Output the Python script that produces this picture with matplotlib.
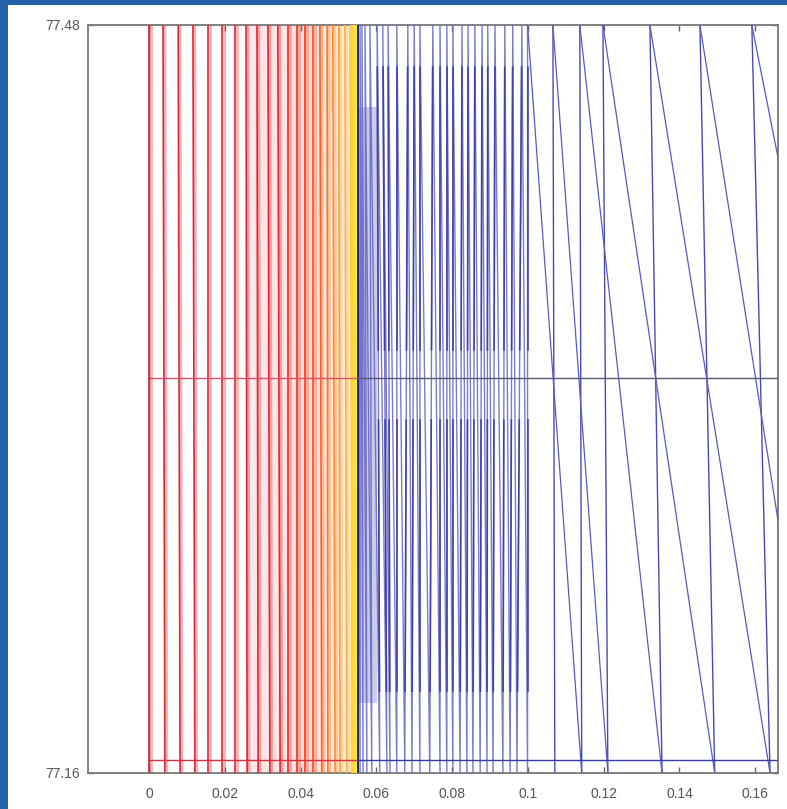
import numpy as np
import matplotlib
matplotlib.use('Agg')
import matplotlib.pyplot as plt
from matplotlib.colors import LinearSegmentedColormap

# axis limits
y_lo, y_hi = 77.16, 77.48
x_lo, x_hi = -0.0161, 0.1660
xticks = [0, 0.02, 0.04, 0.06, 0.08, 0.1, 0.12, 0.14, 0.16]
xtick_labels = ['0', '0.02', '0.04', '0.06', '0.08', '0.1', '0.12', '0.14', '0.16']
yticks = [77.16, 77.48]
ytick_labels = ['77.16', '77.48']

# red / orange branch: x where each stroke meets the top and the bottom
red_top = [0.0, 0.0037, 0.0077, 0.0116, 0.0156, 0.0193, 0.0227, 0.0256, 0.0285, 0.0314, 0.0340,
           0.0367, 0.0390, 0.0412, 0.0433, 0.0451, 0.0470, 0.0485, 0.0501, 0.0517, 0.0530, 0.0541]
red_bot = [0.0, 0.0042, 0.0082, 0.0121, 0.0156, 0.0193, 0.0227, 0.0259, 0.0288, 0.0319, 0.0346,
           0.0367, 0.0390, 0.0412, 0.0433, 0.0456, 0.0472, 0.0491, 0.0504, 0.0522, 0.0538, 0.0546]
yellow_x = [0.0533, 0.0537, 0.0540, 0.0543, 0.0546, 0.0549]

# blue zigzag between 0.055 and 0.1
blue_top = [0.0551, 0.0557, 0.0562, 0.0570, 0.0583, 0.0602, 0.0617, 0.0631, 0.0654, 0.0683, 0.0700,
            0.0715, 0.0749, 0.0768, 0.0786, 0.0802, 0.0826, 0.0842, 0.0860, 0.0879, 0.0894, 0.0913,
            0.0939, 0.0960, 0.0984, 0.0999]
blue_bot = [0.0551, 0.0557, 0.0565, 0.0575, 0.0588, 0.0609, 0.0628, 0.0636, 0.0654, 0.0675, 0.0694,
            0.0715, 0.0741, 0.0768, 0.0786, 0.0802, 0.0821, 0.0839, 0.0855, 0.0874, 0.0892, 0.0908,
            0.0934, 0.0953, 0.0971, 0.0999]
# darker pieces of the blue strokes (y ranges)
blue_bands = [(77.341, 77.462), (77.195, 77.311)]

# sparse part after 0.1: steep up strokes and slanted down strokes
up_bot = [0.1071, 0.1142, 0.1211, 0.1354, 0.1493, 0.1639]
up_top = [0.1066, 0.1137, 0.1198, 0.1322, 0.1454, 0.1591]
dn_top = [0.0999, 0.1066, 0.1137, 0.1198, 0.1322, 0.1454, 0.1591]
dn_bot = [0.1142, 0.1211, 0.1354, 0.1493, 0.1639, 0.1765, 0.1980]

# horizontal lines
h_levels = [77.329, 77.1656]
switch_x = 0.0550

fig = plt.figure(figsize=(7.87, 8.09), dpi=100, facecolor='#2461a8')
fig.patches.append(plt.Rectangle((8 / 787, 0), 1, 1 - 5 / 809, transform=fig.transFigure,
                                 facecolor='white', edgecolor='none', zorder=-10))
ax = fig.add_axes([88 / 787, 1 - 773 / 809, 690 / 787, 748 / 809])
ax.set_zorder(5)

cmap = LinearSegmentedColormap.from_list('ry', [(0, '#d42a3c'), (0.6, '#e8222e'), (0.76, '#ff3414'),
                                                (0.88, '#ff8a28'), (0.95, '#ffb848'), (1, '#fff030')])

# pale wash between the dense red strokes
for i in range(len(red_top) - 1):
    if red_top[i] > 0.025:
        c = cmap(red_top[i] / switch_x)
        ax.axvspan(red_top[i], red_top[i + 1], color=c, alpha=0.10 + 2.5 * (red_top[i] - 0.025), lw=0, zorder=1)
ax.axvspan(yellow_x[0], switch_x, color='#fff04a', alpha=0.85, lw=0, zorder=1)

for t, b in zip(red_top, red_bot):
    c = cmap(t / switch_x)
    ax.plot([t + 0.0005, b + 0.0005], [y_hi, y_lo], color=c, lw=2.0, alpha=0.35, zorder=2)
    ax.plot([t, b], [y_hi, y_lo], color=c, lw=1.2, zorder=3)
for x in yellow_x:
    ax.plot([x, x], [y_hi, y_lo], color=cmap(x / switch_x), lw=1.0, zorder=3)

# blue zigzag
zx, zy = [], []
for t, b in zip(blue_top, blue_bot):
    zx += [b, t]
    zy += [y_lo, y_hi]
ax.fill_betweenx([77.19, 77.445], blue_top[0], blue_top[5], color='#6a6ac4', alpha=0.35, lw=0, zorder=2)
ax.plot(zx, zy, color='#6464c4', lw=1.0, alpha=0.85, zorder=3)
for t, b in zip(blue_top[5:], blue_bot[5:]):
    for y0, y1 in blue_bands:
        f0 = (y0 - y_lo) / (y_hi - y_lo)
        f1 = (y1 - y_lo) / (y_hi - y_lo)
        ax.plot([b + (t - b) * f0, b + (t - b) * f1], [y0, y1], color='#3a3aaa', lw=1.2, alpha=0.9, zorder=4)
ax.plot([switch_x + 0.0002] * 2, [y_lo, y_hi], color='#20208a', lw=1.4, zorder=4)

# sparse strokes
for b, t in zip(up_bot, up_top):
    ax.plot([b, t], [y_lo, y_hi], color='#4a4ab4', lw=1.0, zorder=3)
for t, b in zip(dn_top, dn_bot):
    ax.plot([t, b], [y_hi, y_lo], color='#5a5abc', lw=0.9, zorder=3)

# horizontal lines and the line at x = 0
ax.plot([0, switch_x], [h_levels[0]] * 2, color='#e0506a', lw=1.0, zorder=5)
ax.plot([switch_x, x_hi], [h_levels[0]] * 2, color='#58587a', lw=1.0, zorder=5)
ax.plot([0, switch_x], [h_levels[1]] * 2, color='#d83040', lw=1.0, zorder=5)
ax.plot([switch_x, x_hi], [h_levels[1]] * 2, color='#3a3aa8', lw=1.0, zorder=5)
ax.plot([0, 0], [y_lo, y_hi], color='#b03848', lw=1.0, zorder=5)

ax.set_xlim(x_lo, x_hi)
ax.set_ylim(y_lo, y_hi)
ax.set_xticks(xticks)
ax.set_xticklabels(xtick_labels)
ax.set_yticks(yticks)
ax.set_yticklabels(ytick_labels)
ax.tick_params(direction='in', length=4, width=1, color='#666666', labelcolor='#555555',
               labelsize=10, top=True, right=True)
ax.tick_params(axis='x', pad=10)
ax.tick_params(axis='y', pad=6)
for lab in ax.get_xticklabels() + ax.get_yticklabels():
    lab.set_family('Liberation Sans')
for s in ax.spines.values():
    s.set_color('#777777')
    s.set_linewidth(1.3)

fig.savefig('out.png', dpi=100, facecolor=fig.get_facecolor())
